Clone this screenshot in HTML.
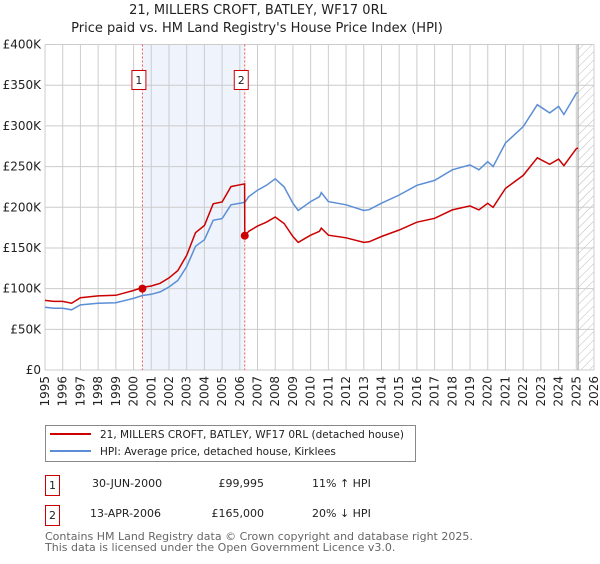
<!DOCTYPE html>
<html><head><meta charset="utf-8"><style>
body{margin:0;background:#fff;font-family:"DejaVu Sans","Liberation Sans",sans-serif;}
svg text{font-family:"DejaVu Sans","Liberation Sans",sans-serif;fill:#222;}
</style></head><body>
<svg id="chart" width="600" height="560" xmlns="http://www.w3.org/2000/svg">
<defs><pattern id="hatch" width="6" height="6" patternUnits="userSpaceOnUse" patternTransform="rotate(45)"><line x1="0" y1="0" x2="0" y2="6" stroke="#bbb" stroke-width="1"/></pattern></defs>
<text x="258" y="14" font-size="13" text-anchor="middle">21, MILLERS CROFT, BATLEY, WF17 0RL</text>
<text x="257" y="32" font-size="13" text-anchor="middle">Price paid vs. HM Land Registry's House Price Index (HPI)</text>
<g id="plot"></g>
<g>
<rect x="45.5" y="425.5" width="370" height="36" fill="#fff" stroke="#888"/>
<line x1="50" y1="434" x2="91" y2="434" stroke="#cc0000" stroke-width="2"/>
<text x="100" y="438" font-size="10.5">21, MILLERS CROFT, BATLEY, WF17 0RL (detached house)</text>
<line x1="50" y1="451" x2="91" y2="451" stroke="#5b8ed6" stroke-width="2"/>
<text x="100" y="455" font-size="10.5">HPI: Average price, detached house, Kirklees</text>
</g>
<g font-size="11">
<rect x="45.5" y="475.5" width="14" height="20" fill="#fff" stroke="#cc0000"/>
<text x="52.5" y="489" text-anchor="middle" font-size="11">1</text>
<text x="92" y="487" font-size="11">30-JUN-2000</text>
<text x="264" y="487" font-size="11" text-anchor="end">£99,995</text>
<text x="312" y="487" font-size="11">11% ↑ HPI</text>
<rect x="45.5" y="505.5" width="14" height="20" fill="#fff" stroke="#cc0000"/>
<text x="52.5" y="519" text-anchor="middle" font-size="11">2</text>
<text x="90" y="517" font-size="11">13-APR-2006</text>
<text x="264" y="517" font-size="11" text-anchor="end">£165,000</text>
<text x="312" y="517" font-size="11">20% ↓ HPI</text>
</g>
<text x="45" y="540" font-size="11" style="fill:#666">Contains HM Land Registry data © Crown copyright and database right 2025.</text>
<text x="45" y="551" font-size="11" style="fill:#666">This data is licensed under the Open Government Licence v3.0.</text>
</svg>
<script>
const hpiYears=[1995,1995.5,1996,1996.5,1997,1998,1999,2000,2000.5,2001,2001.5,2002,2002.5,2003,2003.5,2004,2004.5,2005,2005.5,2006,2006.27,2006.28,2006.5,2007,2007.5,2008,2008.5,2009,2009.3,2010,2010.5,2010.6,2011,2012,2013,2013.3,2014,2015,2016,2017,2018,2019,2019.5,2020,2020.3,2021,2022,2022.8,2023.5,2024,2024.3,2025,2025.1];
const hpiValues=[77,76,76,74,80,82,82.7,88,91.5,93,96,102,110,127,152,160,184,186,203,205,206,206,213,221,227,235,225,205,196,207,213,218,207,203,196,197,205,215,227,233,246,252,246,256,250,279,299,326,316,324,314,340,341];
const saleYears=[2000.5,2006.28];
const salePrices=[99995,165000];
const saleRatios=[1.11,0.80];
const yTicks=[0,50000,100000,150000,200000,250000,300000,350000,400000];
const yTickLabels=["£0","£50K","£100K","£150K","£200K","£250K","£300K","£350K","£400K"];
const xTicks=[1995,1996,1997,1998,1999,2000,2001,2002,2003,2004,2005,2006,2007,2008,2009,2010,2011,2012,2013,2014,2015,2016,2017,2018,2019,2020,2021,2022,2023,2024,2025,2026];
const L=45,R=594,T=44.5,B=370,X0=1995,X1=2026,YMAX=400000;
const xs=v=>L+(v-X0)/(X1-X0)*(R-L);
const ys=v=>B-v/YMAX*(B-T);
const NS="http://www.w3.org/2000/svg";
const plot=document.getElementById('plot');
function mk(tag,attrs,parent){const e=document.createElementNS(NS,tag);for(const k in attrs)e.setAttribute(k,attrs[k]);(parent||plot).appendChild(e);return e;}
let sh=mk('rect',{x:xs(saleYears[0]),y:T,width:xs(saleYears[1])-xs(saleYears[0]),height:B-T,fill:'#eef3fc'});


let ht=mk('rect',{x:xs(2025.1),y:T,width:R-xs(2025.1),height:B-T,fill:'url(#hatch)'});


xTicks.forEach(t=>{let g=mk('line',{x1:xs(t),x2:xs(t),y1:T,y2:B,stroke:'#ccc','stroke-width':1});


let tx=mk('text',{x:0,y:0,'font-size':12,'text-anchor':'end',transform:`translate(${xs(t)+4},${B+6}) rotate(-90)`});tx.textContent=t;

});
yTicks.forEach((t,i)=>{let g=mk('line',{x1:L,x2:R,y1:ys(t),y2:ys(t),stroke:'#ccc','stroke-width':1});


let tx=mk('text',{x:L-4,y:ys(t)+4,'font-size':12,'text-anchor':'end'});tx.textContent=yTickLabels[i];

});
let edge=mk('line',{x1:xs(2025.1),x2:xs(2025.1),y1:T,y2:B,stroke:'#999','stroke-width':1});


saleYears.forEach((s,i)=>{let l=mk('line',{x1:xs(s),x2:xs(s),y1:T,y2:B,stroke:'#e55','stroke-width':1,'stroke-dasharray':'2,2'});


let b=mk('rect',{x:xs(s)-10.5,y:70.5,width:14,height:19,fill:'#fff',stroke:'#cc0000'});


let t=mk('text',{x:xs(s)-3.5,y:84,'font-size':11,'text-anchor':'middle'});t.textContent=i+1;

});
let hp=hpiYears.map((y,i)=>xs(y).toFixed(1)+','+ys(hpiValues[i]*1000).toFixed(1)).join(' ');
let hl=mk('polyline',{points:hp,fill:'none',stroke:'#5b8ed6','stroke-width':1.5});


let pts=[];
hpiYears.forEach((y,i)=>{let k=y<saleYears[1]?0:1;pts.push(xs(y).toFixed(1)+','+ys(hpiValues[i]*1000*saleRatios[k]).toFixed(1));});
let pl=mk('polyline',{points:pts.join(' '),fill:'none',stroke:'#cc0000','stroke-width':1.5});


saleYears.forEach((s,i)=>{let c=mk('circle',{cx:xs(s),cy:ys(salePrices[i]),r:4,fill:'#cc0000'});

});
</script>
</body></html>
